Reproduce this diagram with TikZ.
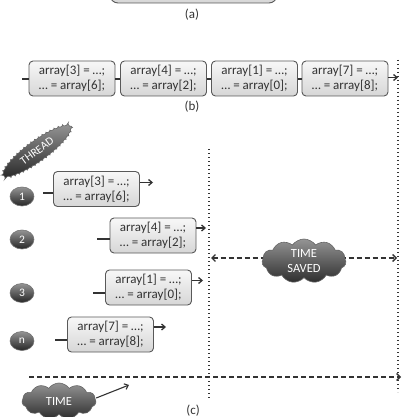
\documentclass[tikz,border=0pt]{standalone}
\usepackage{fontspec}
\setmainfont{Carlito}
\usetikzlibrary{shapes.symbols,shapes.geometric,arrows.meta,decorations.pathmorphing}
\definecolor{ink}{HTML}{333333}
\tikzset{
  codebox/.style={draw=black!65, line width=0.9pt, rounded corners=4pt,
    top color=gray!6, bottom color=gray!32, minimum width=86pt, minimum height=35pt,
    align=center, font=\fontsize{13}{15}\selectfont, text=ink, inner sep=0pt},
  tnum/.style={ellipse, draw=black!55, line width=0.6pt, top color=black!42, bottom color=black!85,
    minimum width=24pt, minimum height=19pt, inner sep=0pt, text=white,
    font=\fontsize{11.5}{12}\selectfont},
  cloudy/.style={cloud, cloud puffs=11, cloud puff arc=110, cloud ignores aspect, draw=black!60, line width=0.6pt,
    top color=black!42, bottom color=black!82, text=white, align=center, inner sep=0pt,
    font=\fontsize{12.5}{15}\selectfont},
  spiky/.style={ellipse, draw=black!60, line width=0.6pt, top color=black!40, bottom color=black!85,
    text=white, inner sep=0pt, decorate, decoration={bumps, segment length=9pt, amplitude=1.2pt},
    font=\fontsize{11.5}{13}\selectfont},
  conn/.style={draw=ink, line width=1.3pt},
  arr/.style={draw=ink, line width=1.3pt, -{Straight Barb[length=3.5pt,width=6pt]}},
  dashline/.style={draw=ink, line width=1.4pt, dash pattern=on 5pt off 3pt},
  dotline/.style={draw=ink, line width=1.2pt, dash pattern=on 1.2pt off 2.8pt},
  captxt/.style={font=\fontsize{13}{14}\selectfont, text=ink}
}
\begin{document}
\begin{tikzpicture}[x=1pt,y=-1pt]
\path[use as bounding box, clip] (0,0) rectangle (402,417);
\fill[white] (0,0) rectangle (402,417);

% (a)
\node[codebox, minimum width=167pt, minimum height=40pt, rounded corners=8pt] (abox) at (193.5,-17) {};
\node[captxt] (la) at (192,15) {(a)};

% (b)
\node[codebox] (b1) at (72,78.5) {array[3] = …;\\… = array[6];};
\node[codebox] (b2) at (163.5,78.5) {array[4] = …;\\… = array[2];};
\node[codebox] (b3) at (254.5,78.5) {array[1] = …;\\… = array[0];};
\node[codebox] (b4) at (345,78.5) {array[7] = …;\\… = array[8];};
\coordinate (bin) at (22,79);
\coordinate (bout) at (398,77.5);
\draw[conn] (bin) -- (bin -| b1.west);
\draw[conn] (b1.east |- 0,79) -- (b2.west |- 0,79);
\draw[conn] (b2.east |- 0,79) -- (b3.west |- 0,79);
\draw[conn] (b3.east |- 0,79) -- (b4.west |- 0,79);
\draw[arr] (b4.east |- bout) -- (bout);
\node[captxt] (lb) at (192,107) {(b)};

% dotted verticals
\coordinate (v1t) at (398,60);
\coordinate (v1b) at (398,392);
\coordinate (v2t) at (209,149);
\coordinate (v2b) at (209,399);
\draw[dotline] (v1t) -- (v1b);
\draw[dotline] (v2t) -- (v2b);

% THREAD cloud
\node[spiky, rotate=36, minimum width=84pt, minimum height=22pt] (thr) at (37,151) {THREAD};

% thread numbers
\node[tnum] (n1) at (22,196.5) {1};
\node[tnum] (n2) at (22,239.5) {2};
\node[tnum] (n3) at (22,293) {3};
\node[tnum] (nn) at (22,341) {n};

% (c) boxes
\node[codebox] (t1) at (96.5,189) {array[3] = …;\\… = array[6];};
\node[codebox] (t2) at (153,235.5) {array[4] = …;\\… = array[2];};
\node[codebox] (t3) at (148.5,287.5) {array[1] = …;\\… = array[0];};
\node[codebox] (tn) at (110.5,334.5) {array[7] = …;\\… = array[8];};

\coordinate (i1) at (43,193);
\coordinate (i2) at (97,239);
\coordinate (i3) at (93,293);
\coordinate (in) at (55,340);
\draw[conn] (i1) -- (i1 -| t1.west);
\draw[conn] (i2) -- (i2 -| t2.west);
\draw[conn] (i3) -- (i3 -| t3.west);
\draw[conn] (in) -- (in -| tn.west);

\coordinate (o1) at (153,182.5);
\coordinate (o2) at (206,228);
\coordinate (o3) at (203,280.5);
\coordinate (on) at (166,327);
\draw[arr] (o1 -| t1.east) -- (o1);
\draw[arr] (o2 -| t2.east) -- (o2);
\draw[arr] (o3 -| t3.east) -- (o3);
\draw[arr] (on -| tn.east) -- (on);

% time saved
\coordinate (sl) at (211,258);
\coordinate (sr) at (397,258);
\draw[dashline, {Straight Barb[length=3.5pt,width=7pt]}-{Straight Barb[length=3.5pt,width=7pt]}] (sl) -- (sr);
\node[cloudy, minimum width=84pt, minimum height=44pt] (saved) at (304,261) {TIME\\SAVED};

% time axis
\coordinate (tl) at (29,377);
\coordinate (tr) at (401,377);
\draw[dashline, -{Straight Barb[length=3.5pt,width=7pt]}] (tl) -- (tr);
\node[cloudy, minimum width=74pt, minimum height=36pt] (time) at (59,401) {TIME};
\coordinate (ta) at (129,385);
\draw[arr, line width=1.1pt] (time.east) ++(0,-3) -- (ta);

\node[captxt] (lc) at (193,411) {(c)};
\end{tikzpicture}
\end{document}
